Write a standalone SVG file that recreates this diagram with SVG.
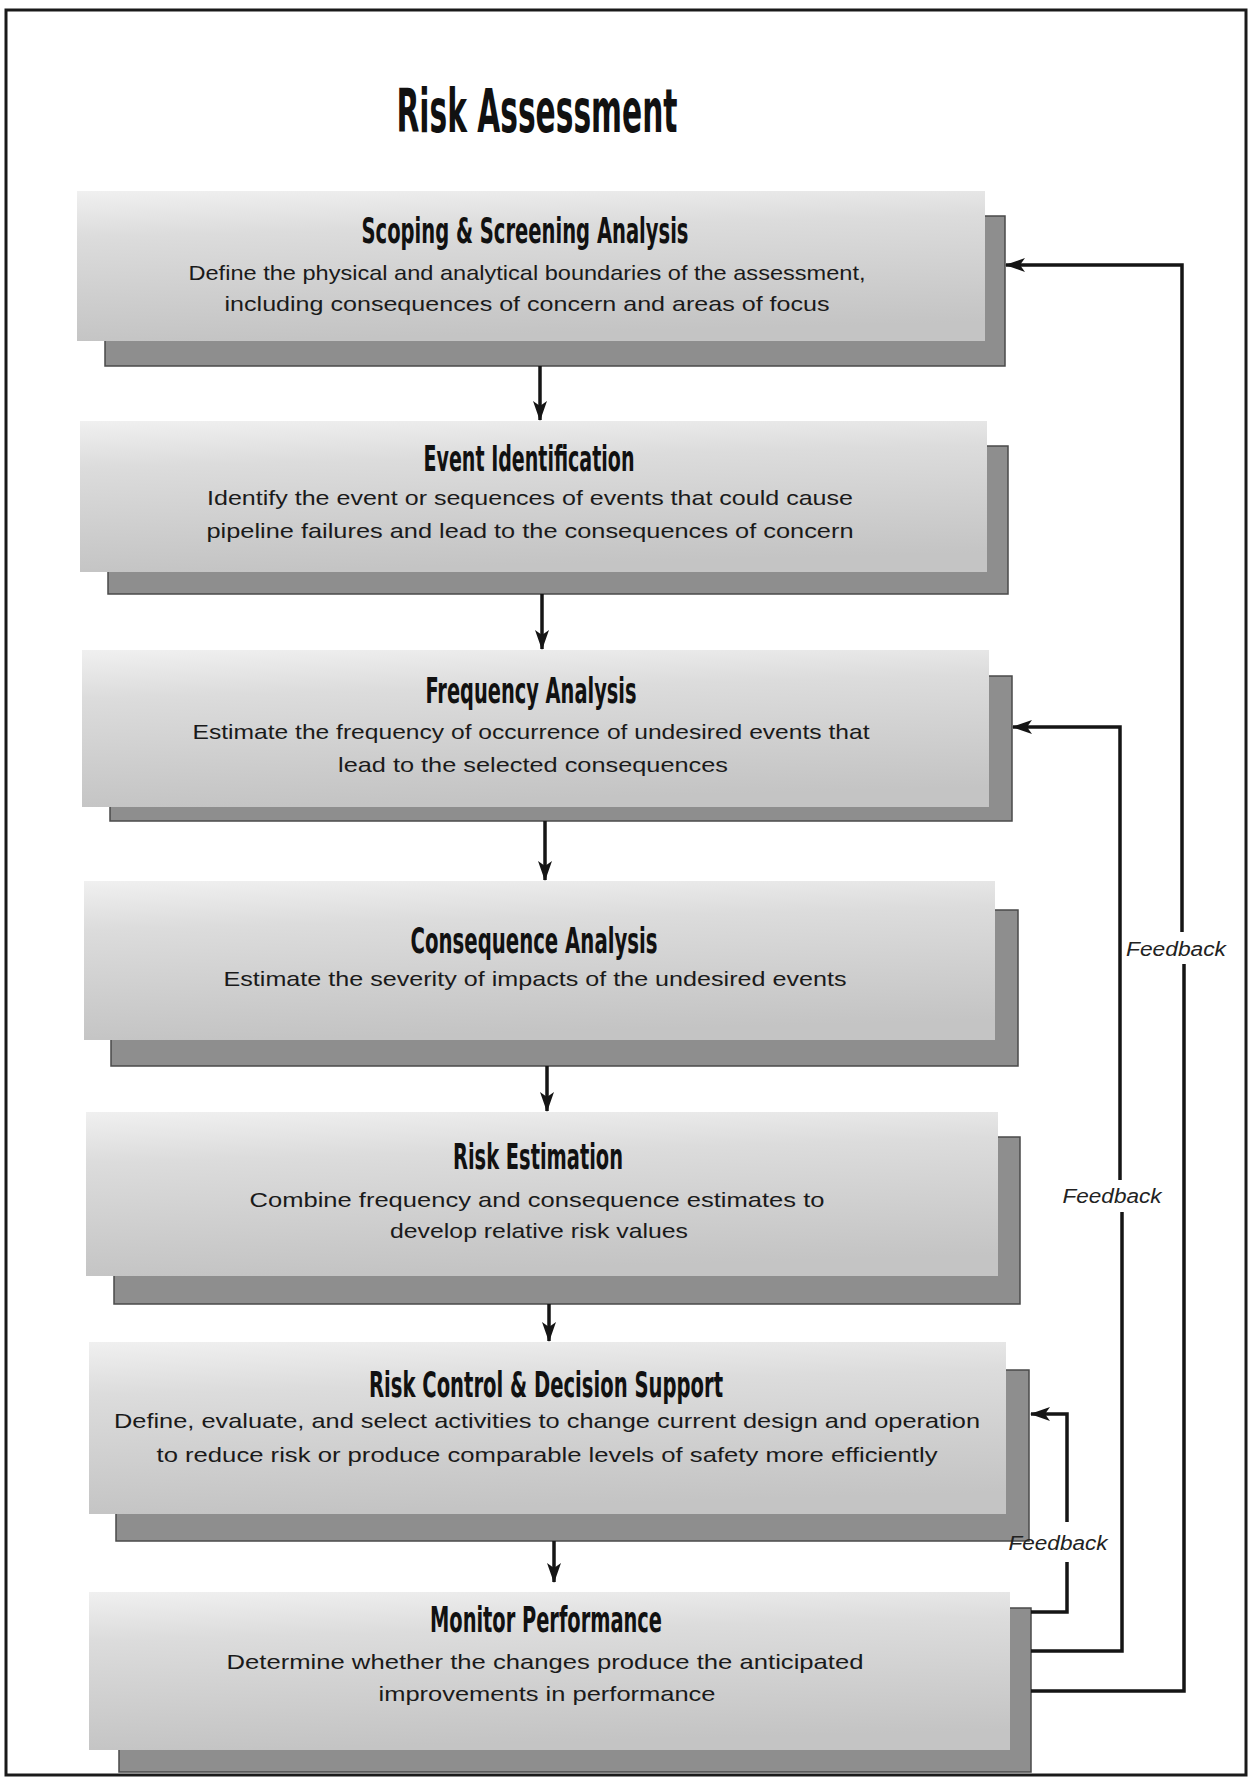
<svg xmlns="http://www.w3.org/2000/svg" width="1254" height="1782" viewBox="0 0 1254 1782">
<style>
.bg{fill:#ffffff}
.frame{fill:none;stroke:#1a1a1a;stroke-width:3}
.front{fill:url(#gFront)}
.shadow{fill:#8e8e8e;stroke:#4a4a4a;stroke-width:1.5}
.ttl{font-family:"Liberation Sans Narrow","DejaVu Sans Condensed","Liberation Sans",sans-serif;font-weight:bold;fill:#111;text-anchor:middle}
.desc{font-family:"Liberation Sans",Arial,sans-serif;font-size:21px;fill:#1a1a1a;text-anchor:middle}
.fb{font-family:"Liberation Sans",Arial,sans-serif;font-style:italic;font-size:20px;fill:#222;text-anchor:middle}
.conn{fill:none;stroke:#151515;stroke-width:3.5}
</style>
<defs>
<linearGradient id="gFront" x1="0" y1="0" x2="0.15" y2="1">
<stop offset="0" stop-color="#f0f0f0"/>
<stop offset="0.3" stop-color="#dcdcdc"/>
<stop offset="1" stop-color="#c4c4c4"/>
</linearGradient>
<marker id="arr" markerUnits="userSpaceOnUse" viewBox="0 0 20 14" markerWidth="20" markerHeight="14" refX="19" refY="7" orient="auto">
<path d="M0,0 L20,7 L0,14 L5,7 z" fill="#151515"/>
</marker>
</defs>
<rect class="bg" x="0" y="0" width="1254" height="1782"/>
<rect class="frame" x="6" y="10" width="1240" height="1765"/>
<text class="ttl" x="537" y="132" font-size="60" textLength="281" lengthAdjust="spacingAndGlyphs">Risk Assessment</text>

<g id="node-scoping">
<rect class="shadow" x="105" y="216" width="900" height="150"/>
<rect class="front" x="77" y="191" width="908" height="150"/>
<text class="ttl" x="525" y="243" font-size="35" textLength="327" lengthAdjust="spacingAndGlyphs">Scoping &amp; Screening Analysis</text>
<text class="desc" x="527" y="280" textLength="677" lengthAdjust="spacingAndGlyphs">Define the physical and analytical boundaries of the assessment,</text>
<text class="desc" x="527" y="311" textLength="605" lengthAdjust="spacingAndGlyphs">including consequences of concern and areas of focus</text>
</g>

<g id="node-event">
<rect class="shadow" x="108" y="446" width="900" height="148"/>
<rect class="front" x="80" y="421" width="907" height="151"/>
<text class="ttl" x="529" y="471" font-size="35" textLength="211" lengthAdjust="spacingAndGlyphs">Event Identification</text>
<text class="desc" x="530" y="505" textLength="646" lengthAdjust="spacingAndGlyphs">Identify the event or sequences of events that could cause</text>
<text class="desc" x="530" y="538" textLength="647" lengthAdjust="spacingAndGlyphs">pipeline failures and lead to the consequences of concern</text>
</g>

<g id="node-frequency">
<rect class="shadow" x="110" y="676" width="902" height="145"/>
<rect class="front" x="82" y="650" width="907" height="157"/>
<text class="ttl" x="531" y="703" font-size="35" textLength="211" lengthAdjust="spacingAndGlyphs">Frequency Analysis</text>
<text class="desc" x="531" y="739" textLength="677" lengthAdjust="spacingAndGlyphs">Estimate the frequency of occurrence of undesired events that</text>
<text class="desc" x="533" y="772" textLength="390" lengthAdjust="spacingAndGlyphs">lead to the selected consequences</text>
</g>

<g id="node-consequence">
<rect class="shadow" x="111" y="910" width="907" height="156"/>
<rect class="front" x="84" y="881" width="911" height="159"/>
<text class="ttl" x="534" y="953" font-size="35" textLength="247" lengthAdjust="spacingAndGlyphs">Consequence Analysis</text>
<text class="desc" x="535" y="986" textLength="623" lengthAdjust="spacingAndGlyphs">Estimate the severity of impacts of the undesired events</text>
</g>

<g id="node-estimation">
<rect class="shadow" x="114" y="1137" width="906" height="167"/>
<rect class="front" x="86" y="1112" width="912" height="164"/>
<text class="ttl" x="538" y="1169" font-size="35" textLength="170" lengthAdjust="spacingAndGlyphs">Risk Estimation</text>
<text class="desc" x="537" y="1207" textLength="575" lengthAdjust="spacingAndGlyphs">Combine frequency and consequence estimates to</text>
<text class="desc" x="539" y="1238" textLength="298" lengthAdjust="spacingAndGlyphs">develop relative risk values</text>
</g>

<g id="node-control">
<rect class="shadow" x="116" y="1370" width="913" height="171"/>
<rect class="front" x="89" y="1342" width="917" height="172"/>
<text class="ttl" x="546" y="1397" font-size="35" textLength="354" lengthAdjust="spacingAndGlyphs">Risk Control &amp; Decision Support</text>
<text class="desc" x="547" y="1428" textLength="866" lengthAdjust="spacingAndGlyphs">Define, evaluate, and select activities to change current design and operation</text>
<text class="desc" x="547" y="1462" textLength="781" lengthAdjust="spacingAndGlyphs">to reduce risk or produce comparable levels of safety more efficiently</text>
</g>

<g id="node-monitor">
<rect class="shadow" x="119" y="1608" width="912" height="164"/>
<rect class="front" x="89" y="1592" width="921" height="158"/>
<text class="ttl" x="546" y="1632" font-size="35" textLength="232" lengthAdjust="spacingAndGlyphs">Monitor Performance</text>
<text class="desc" x="545" y="1669" textLength="637" lengthAdjust="spacingAndGlyphs">Determine whether the changes produce the anticipated</text>
<text class="desc" x="547" y="1701" textLength="337" lengthAdjust="spacingAndGlyphs">improvements in performance</text>
</g>

<g id="connectors">
<line class="conn" x1="540" y1="366" x2="540" y2="420" marker-end="url(#arr)"/>
<line class="conn" x1="542" y1="594" x2="542" y2="649" marker-end="url(#arr)"/>
<line class="conn" x1="545" y1="821" x2="545" y2="880" marker-end="url(#arr)"/>
<line class="conn" x1="547" y1="1066" x2="547" y2="1111" marker-end="url(#arr)"/>
<line class="conn" x1="549" y1="1304" x2="549" y2="1341" marker-end="url(#arr)"/>
<line class="conn" x1="554" y1="1541" x2="554" y2="1582" marker-end="url(#arr)"/>

<path class="conn" d="M1031,1612 H1067 V1562"/>
<path class="conn" d="M1067,1522 V1414 H1031" marker-end="url(#arr)"/>
<text class="fb" x="1058" y="1550" textLength="99" lengthAdjust="spacingAndGlyphs">Feedback</text>

<path class="conn" d="M1031,1651 H1122 V1212"/>
<path class="conn" d="M1120,1180 V727 H1013" marker-end="url(#arr)"/>
<text class="fb" x="1112" y="1203" textLength="99" lengthAdjust="spacingAndGlyphs">Feedback</text>

<path class="conn" d="M1031,1691 H1184 V964"/>
<path class="conn" d="M1182,932 V265 H1006" marker-end="url(#arr)"/>
<text class="fb" x="1176" y="956" textLength="100" lengthAdjust="spacingAndGlyphs">Feedback</text>
</g>
</svg>
